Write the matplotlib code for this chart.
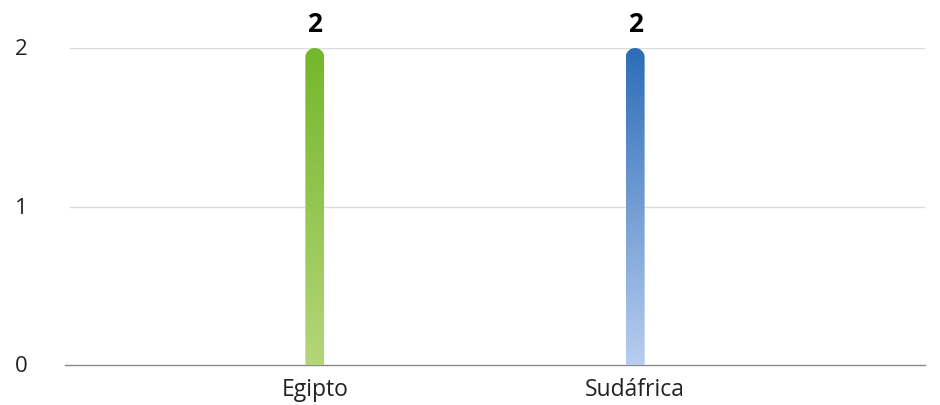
import numpy as np
import matplotlib
matplotlib.use("Agg")
import matplotlib.pyplot as plt
from matplotlib.path import Path
from matplotlib.patches import PathPatch
from matplotlib.colors import LinearSegmentedColormap
from matplotlib.transforms import ScaledTranslation

categories = ["Egipto", "Sudáfrica"]
values = [2, 2]
top_colors = ["#74b72a", "#2d6db7"]
bottom_colors = ["#b4d679", "#b8cdf0"]
yticks = [0, 1, 2]

plt.rcParams['font.family'] = ['Open Sans', 'DejaVu Sans']

W, H = 940, 405
fig = plt.figure(figsize=(W / 100, H / 100), dpi=100)
ax_l, ax_r, ax_b, ax_t = 65, 925, 365, 48
ax = fig.add_axes([ax_l / W, (H - ax_b) / H, (ax_r - ax_l) / W, (ax_b - ax_t) / H])

x = np.arange(len(categories))
xlim = (-0.78, 1.905)
ylim = (0, 2)
ax.set_xlim(*xlim)
ax.set_ylim(*ylim)

px_per_x = (ax_r - ax_l) / (xlim[1] - xlim[0])
px_per_y = (ax_b - ax_t) / (ylim[1] - ylim[0])
bar_px = 19
w = bar_px / px_per_x
rx = (bar_px / 2) / px_per_x
ry = (bar_px / 2) / px_per_y

for xi, v, ct, cb in zip(x, values, top_colors, bottom_colors):
    cmap = LinearSegmentedColormap.from_list("g", [cb, ct])
    grad = np.linspace(0, 1, 256).reshape(-1, 1)
    im = ax.imshow(grad, cmap=cmap, aspect='auto', origin='lower',
                   extent=[xi - w / 2, xi + w / 2, 0, v], zorder=3)
    th = np.linspace(0, np.pi, 40)
    arc = np.column_stack([xi + rx * np.cos(th), v - ry + ry * np.sin(th)])
    verts = np.vstack([[[xi + w / 2, 0]], arc, [[xi - w / 2, 0]], [[xi + w / 2, 0]]])
    codes = [Path.MOVETO] + [Path.LINETO] * (len(verts) - 2) + [Path.CLOSEPOLY]
    patch = PathPatch(Path(verts, codes), transform=ax.transData, facecolor='none', edgecolor='none')
    ax.add_patch(patch)
    im.set_clip_path(patch)
    ax.annotate(str(v), (xi, v), xytext=(0, 7.5), textcoords='offset points',
                ha='center', va='bottom', fontsize=19, fontweight='bold', color='#000000')

ax.set_yticks(yticks)
ax.set_yticklabels([str(t) for t in yticks], fontsize=16, color='#222222')
ax.set_xticks(x)
ax.set_xticklabels(categories, fontsize=16.5, color='#222222')
ax.tick_params(axis='y', length=0, pad=36)
ax.tick_params(axis='x', length=0, pad=9)
for lbl in ax.get_yticklabels():
    lbl.set_horizontalalignment('left')
    lbl.set_verticalalignment('baseline')
    lbl.set_transform(lbl.get_transform() + ScaledTranslation(0, -7 / 100, fig.dpi_scale_trans))

for t in yticks[1:]:
    ax.axhline(t, color='#dcdcdc', linewidth=1, zorder=1, xmin=5 / (ax_r - ax_l))
for s in ['top', 'right', 'left']:
    ax.spines[s].set_visible(False)
ax.spines['bottom'].set_color('#8a8a8a')
ax.spines['bottom'].set_linewidth(1)

fig.savefig("out.png", dpi=100)
